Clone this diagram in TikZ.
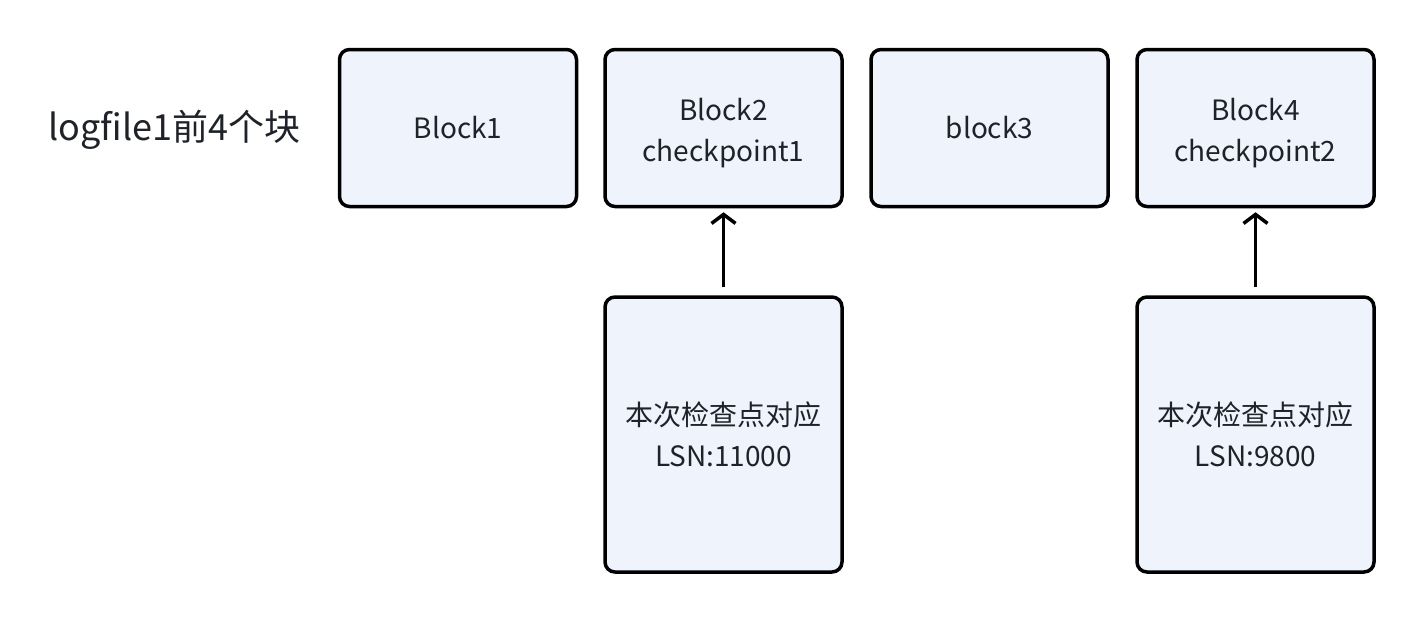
\documentclass[tikz,border=0pt]{standalone}
\usepackage{fontspec}
\setmainfont{Noto Sans CJK SC}
\usetikzlibrary{arrows.meta}
\definecolor{boxfill}{HTML}{EFF3FC}
\definecolor{txt}{HTML}{1F2329}
\newcommand{\twolines}[2]{\raisebox{-5pt}[\height][\depth]{\begin{tabular}{@{}c@{}}#1\\#2\end{tabular}}}
\begin{document}
\begin{tikzpicture}[x={(1pt,0)},y={(0,-1pt)},
  blk/.style={draw=black, line width=3.5pt, fill=boxfill, rounded corners=10pt, inner sep=0pt,
    text=txt, align=center, font=\fontsize{28}{41}\selectfont},
  arr/.style={line width=3.5pt, -{Straight Barb[length=9pt,width=24pt,line width=3.5pt]}}]
\useasboundingbox (0,0) rectangle (1426,622);
\node[text=txt, font=\fontsize{36}{42}\selectfont, anchor=west] (title) at (45,130) {logfile1前4个块};
\node[blk, minimum width=237pt, minimum height=157pt] (b1) at (458,128) {Block1};
\node[blk, minimum width=237pt, minimum height=157pt] (b2) at (723.5,128) {\twolines{Block2}{checkpoint1}};
\node[blk, minimum width=237pt, minimum height=157pt] (b3) at (989.5,128) {block3};
\node[blk, minimum width=237pt, minimum height=157pt] (b4) at (1255.5,128) {\twolines{Block4}{checkpoint2}};
\node[blk, minimum width=237pt, minimum height=275pt] (c1) at (723.5,434.5) {本次检查点对应\\LSN:11000};
\node[blk, minimum width=237pt, minimum height=275pt] (c2) at (1255.5,434.5) {本次检查点对应\\LSN:9800};
\draw[arr] ([yshift=8pt]c1.north) -- ([yshift=-4pt]b2.south);
\draw[arr] ([yshift=8pt]c2.north) -- ([yshift=-4pt]b4.south);
\end{tikzpicture}
\end{document}
